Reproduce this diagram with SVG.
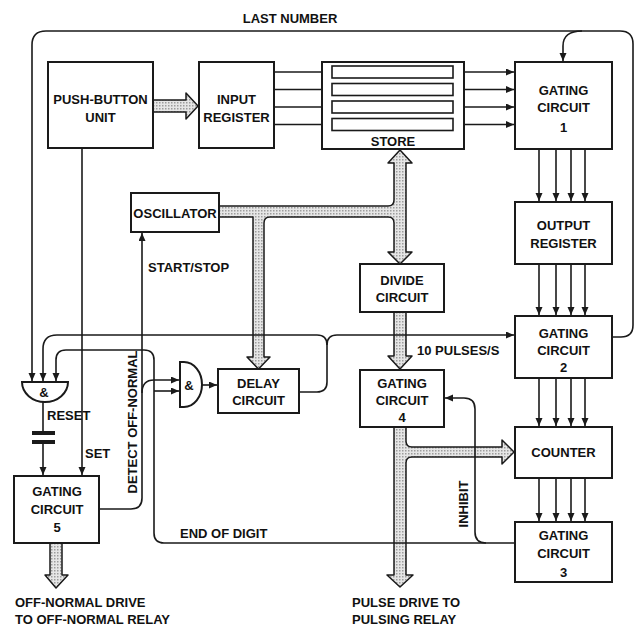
<svg xmlns="http://www.w3.org/2000/svg" width="637" height="627" viewBox="0 0 637 627">
<defs>
<pattern id="dots" width="3" height="3" patternUnits="userSpaceOnUse"><rect width="3" height="3" fill="#e6e6e6"/><rect width="1.5" height="1.5" fill="#9c9c9c"/></pattern>
<marker id="ah" markerUnits="userSpaceOnUse" markerWidth="9" markerHeight="8" refX="8" refY="3.5" orient="auto"><path d="M0,0 L8,3.5 L0,7 Z" fill="#1a1a1a"/></marker>
<style>
.box{fill:#fff;stroke:#1a1a1a;stroke-width:2}
.ln{fill:none;stroke:#1a1a1a;stroke-width:1.6}
.ar{fill:none;stroke:#1a1a1a;stroke-width:1.6;marker-end:url(#ah)}
.big{fill:url(#dots);stroke:#1a1a1a;stroke-width:1.5;stroke-linejoin:round}
text{font-family:"Liberation Sans",Arial,sans-serif;font-weight:bold;font-size:13px;fill:#111}
.c{text-anchor:middle}
</style>
</defs>
<rect width="637" height="627" fill="#fff"/>

<g id="wide-arrows">
<path class="big" d="M153,100 H186 V93 L198,106 L186,119 V112 H153 Z"/>
<path class="big" d="M219,206 H388 Q394,206 394,200 V163 H388 L400,150 L412,163 H406 V252 H412 L400,264 L388,252 H394 V223 Q394,217 388,217 H270 Q264,217 264,223 V357 H270 L258.5,369 L247,357 H253 V217 H219 Z"/>
<path class="big" d="M394,312 H406 V356 H412 L400,369 L388,356 H394 Z"/>
<path class="big" d="M394,427 H406 V441 Q406,447 412,447 H502 V440 L514,452 L502,464 V457 H412 Q406,457 406,463 V575 H413 L400,587 L387,575 H394 Z"/>
<path class="big" d="M50,543 H62 V575 H68 L56,588 L45,575 H50 Z"/>
</g>

<g id="connectors">
<path class="ar" d="M612,337 H621 Q633,337 633,325 V44 Q633,31 620,31 H46 Q32,31 32,45 V381"/>
<path class="ar" d="M582,31 Q563,31 563,46 V61"/>
<path class="ar" d="M274,72 H331"/>
<path class="ar" d="M274,89.5 H331"/>
<path class="ar" d="M274,107 H331"/>
<path class="ar" d="M274,124.5 H331"/>
<path class="ar" d="M453,72 H514"/>
<path class="ar" d="M453,89.5 H514"/>
<path class="ar" d="M453,107 H514"/>
<path class="ar" d="M453,124.5 H514"/>
<path class="ar" d="M539,149 V201"/>
<path class="ar" d="M556,149 V201"/>
<path class="ar" d="M571,149 V201"/>
<path class="ar" d="M585,149 V201"/>
<path class="ar" d="M539,264 V315"/>
<path class="ar" d="M556,264 V315"/>
<path class="ar" d="M571,264 V315"/>
<path class="ar" d="M585,264 V315"/>
<path class="ar" d="M539,378 V426"/>
<path class="ar" d="M556,378 V426"/>
<path class="ar" d="M571,378 V426"/>
<path class="ar" d="M585,378 V426"/>
<path class="ar" d="M539,478 V521"/>
<path class="ar" d="M556,478 V521"/>
<path class="ar" d="M571,478 V521"/>
<path class="ar" d="M585,478 V521"/>
<path class="ar" d="M299,392 H317 Q327,392 327,382 V345 Q327,335 317,335 H57 Q43,335 43,349 V381"/>
<path class="ar" d="M327,345 Q327,335 337,335 H514"/>
<path class="ar" d="M515,543 H164 Q154,543 154,533 V360 Q154,350 144,350 H66 Q56,350 56,360 V381"/>
<path class="ar" d="M154,391 H179"/>
<path class="ar" d="M486,543 Q475,543 475,532 V409 Q475,398 464,398 H445"/>
<path class="ar" d="M99,509 H131 Q142,509 142,498 V233"/>
<path class="ar" d="M142,393 Q142,380 154,380 H179"/>
<path class="ar" d="M202,385 H217"/>
<path class="ar" d="M82,148 V475"/>
<path class="ln" d="M43,402 V433"/>
<rect x="32" y="431" width="23" height="4" fill="#1a1a1a"/>
<rect x="32" y="440" width="23" height="4" fill="#1a1a1a"/>
<path class="ar" d="M43,444 V475"/>
</g>

<g id="push-button-unit"><rect class="box" x="48" y="62" width="105" height="86"/><text class="c" x="100.5" y="104">PUSH-BUTTON</text><text class="c" x="100.5" y="122">UNIT</text></g>
<g id="input-register"><rect class="box" x="199" y="62" width="75" height="86"/><text class="c" x="236.5" y="104">INPUT</text><text class="c" x="236.5" y="122">REGISTER</text></g>
<g id="store"><rect class="box" x="322" y="62" width="142" height="87"/>
<rect class="box" x="332" y="66" width="121" height="12" style="stroke-width:1.6"/>
<rect class="box" x="332" y="83.5" width="121" height="12" style="stroke-width:1.6"/>
<rect class="box" x="332" y="101" width="121" height="12" style="stroke-width:1.6"/>
<rect class="box" x="332" y="118.5" width="121" height="12" style="stroke-width:1.6"/>
<text class="c" x="393" y="146">STORE</text></g>
<g id="gating-circuit-1"><rect class="box" x="515" y="62" width="97" height="87"/><text class="c" x="563.5" y="95">GATING</text><text class="c" x="563.5" y="112">CIRCUIT</text><text class="c" x="563.5" y="132">1</text></g>
<g id="oscillator"><rect class="box" x="131" y="193" width="88" height="39"/><text class="c" x="175" y="218">OSCILLATOR</text></g>
<g id="output-register"><rect class="box" x="515" y="202" width="97" height="62"/><text class="c" x="563.5" y="230">OUTPUT</text><text class="c" x="563.5" y="248">REGISTER</text></g>
<g id="divide-circuit"><rect class="box" x="360" y="264" width="84" height="48"/><text class="c" x="402" y="285">DIVIDE</text><text class="c" x="402" y="302">CIRCUIT</text></g>
<g id="gating-circuit-2"><rect class="box" x="515" y="316" width="97" height="62"/><text class="c" x="563.5" y="338">GATING</text><text class="c" x="563.5" y="355">CIRCUIT</text><text class="c" x="563.5" y="372">2</text></g>
<g id="delay-circuit"><rect class="box" x="218" y="369" width="81" height="44"/><text class="c" x="258.5" y="388">DELAY</text><text class="c" x="258.5" y="405">CIRCUIT</text></g>
<g id="gating-circuit-4"><rect class="box" x="360" y="370" width="84" height="57"/><text class="c" x="402" y="388">GATING</text><text class="c" x="402" y="405">CIRCUIT</text><text class="c" x="402" y="422">4</text></g>
<g id="and-gate-left"><path class="box" d="M22,382 H68 A23,20 0 0 1 22,382 Z"/><text class="c" x="44" y="397">&amp;</text></g>
<g id="and-gate-right"><path class="box" d="M180,362 H184 A18,22.5 0 0 1 184,407 H180 Z"/><text class="c" x="189" y="390">&amp;</text></g>
<g id="counter"><rect class="box" x="515" y="427" width="97" height="51"/><text class="c" x="563.5" y="457">COUNTER</text></g>
<g id="gating-circuit-5"><rect class="box" x="14" y="476" width="85" height="67"/><text class="c" x="57" y="496">GATING</text><text class="c" x="57" y="514">CIRCUIT</text><text class="c" x="57" y="532">5</text></g>
<g id="gating-circuit-3"><rect class="box" x="515" y="522" width="97" height="60"/><text class="c" x="563.5" y="540">GATING</text><text class="c" x="563.5" y="558">CIRCUIT</text><text class="c" x="563.5" y="577">3</text></g>

<g id="labels">
<text class="c" x="290" y="23">LAST NUMBER</text>
<text x="148" y="272">START/STOP</text>
<text x="417" y="355">10 PULSES/S</text>
<text x="47" y="420">RESET</text>
<text x="85" y="458">SET</text>
<text x="180" y="538">END OF DIGIT</text>
<text class="c" transform="translate(137,422) rotate(-90)">DETECT OFF-NORMAL</text>
<text class="c" transform="translate(468,504) rotate(-90)">INHIBIT</text>
<text x="15" y="607">OFF-NORMAL DRIVE</text>
<text x="15" y="624">TO OFF-NORMAL RELAY</text>
<text x="352" y="607">PULSE DRIVE TO</text>
<text x="352" y="624">PULSING RELAY</text>
</g>
</svg>
